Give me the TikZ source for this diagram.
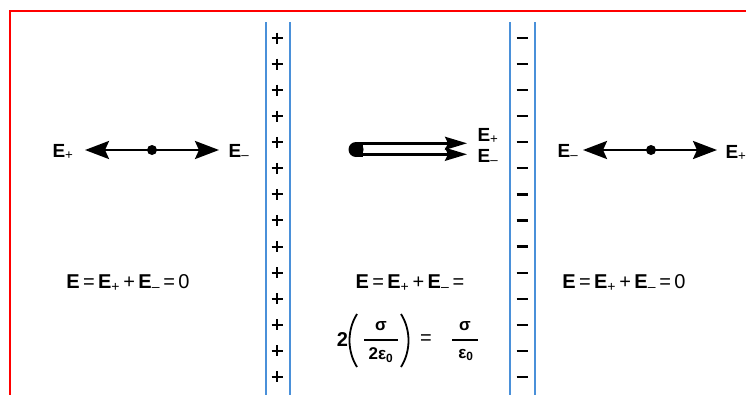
\documentclass[tikz,border=0pt]{standalone}
\usepackage{fontspec}
\setmainfont{Liberation Sans}
\usetikzlibrary{arrows.meta}
\definecolor{plateblue}{RGB}{74,144,217}
\definecolor{framered}{RGB}{255,0,0}
\tikzset{
  frame/.style={draw=framered,line width=2pt},
  plate/.style={draw=plateblue,line width=1.8pt},
  sign/.style={line width=2pt,black},
  field/.style={line width=2.6pt,-{Stealth[length=24pt,width=18pt,inset=4pt]}},
  twin/.style={line width=2.4pt,-{Stealth[length=22pt,width=13pt,inset=3pt]}},
  lbl/.style={font=\fontsize{19}{21}\selectfont,inner sep=0pt},
  eq/.style={font=\fontsize{20}{22}\selectfont,inner sep=0pt},
  frac/.style={font=\fontsize{17}{18}\selectfont\bfseries,inner sep=0pt},
  bar/.style={line width=1.4pt},
  paren/.style={line width=1.8pt},
  dotn/.style={circle,fill=black,inner sep=0pt,minimum size=10pt},
}
\newcommand{\EB}{\textbf{E}}
\begin{document}
\begin{tikzpicture}[x=1pt,y=-1pt]
\useasboundingbox (0,0) rectangle (746,394);
% frame
\draw[frame] (10,400) -- (10,11) -- (750,11);
% plates
\draw[plate] (266,22) -- (266,400);
\draw[plate] (290,22) -- (290,400);
\draw[plate] (510,22) -- (510,400);
\draw[plate] (535,22) -- (535,400);
\foreach \i in {0,...,13} {
  \pgfmathsetmacro\yy{38+26.07*\i}
  \draw[sign] (271.5,\yy) -- (282.5,\yy) (277,\yy-5.5) -- (277,\yy+5.5);
  \draw[sign,line width=2.2pt] (516.5,\yy) -- (527.5,\yy);
}
% left field
\node[dotn] (dotL) at (152,150) {};
\coordinate (tipLa) at (85,150);
\coordinate (tipLb) at (219,150);
\draw[field] (dotL.center) -- (tipLa);
\draw[field] (dotL.center) -- (tipLb);
\node[lbl] (EpL) at (63,152) {\EB\textsubscript{+}};
\node[lbl] (EmL) at (239,152) {\EB\textsubscript{–}};
% right field
\node[dotn] (dotR) at (651,150) {};
\coordinate (tipRa) at (583,150);
\coordinate (tipRb) at (717,150);
\draw[field] (dotR.center) -- (tipRa);
\draw[field] (dotR.center) -- (tipRb);
\node[lbl] (EmR) at (568,152) {\EB\textsubscript{–}};
\node[lbl] (EpR) at (736,153) {\EB\textsubscript{+}};
% middle field
\coordinate (tailA) at (356,143.3);
\coordinate (tailB) at (356,154.3);
\coordinate (tipMa) at (467,143.3);
\coordinate (tipMb) at (467,154.3);
\fill (356,149.5) circle (7.5pt);
\fill (356,142.1) rectangle (363,157.2);
\draw[twin] (tailA) -- (tipMa);
\draw[twin] (tailB) -- (tipMb);
\node[lbl] (EpM) at (488,136) {\EB\textsubscript{+}};
\node[lbl] (EmM) at (488,157) {\EB\textsubscript{–}};
% equations
\node[eq] (eqL) at (128,283) {\EB\,=\,\EB\textsubscript{+}\,+\,\EB\textsubscript{–}\,=\,0};
\node[eq] (eqM1) at (410,283) {\EB\,=\,\EB\textsubscript{+}\,+\,\EB\textsubscript{–}\,=};
\node[eq] (eqR) at (624,283) {\EB\,=\,\EB\textsubscript{+}\,+\,\EB\textsubscript{–}\,=\,0};
% second line of the middle equation
\node[eq] (two) at (342.5,340) {\textbf{2}};
\draw[paren] (357,314) .. controls (347,330) and (347,351) .. (357,367);
\node[frac] (numA) at (381,326) {σ};
\draw[bar] (364,340) -- (398,340);
\node[frac] (denA) at (381,355) {2ε\textsubscript{0}};
\draw[paren] (401,314) .. controls (411,330) and (411,351) .. (401,367);
\node[eq] (eqsign) at (426,340) {=};
\node[frac] (numB) at (465,326) {σ};
\draw[bar] (452,340) -- (478,340);
\node[frac] (denB) at (466,355) {ε\textsubscript{0}};
\end{tikzpicture}
\end{document}
